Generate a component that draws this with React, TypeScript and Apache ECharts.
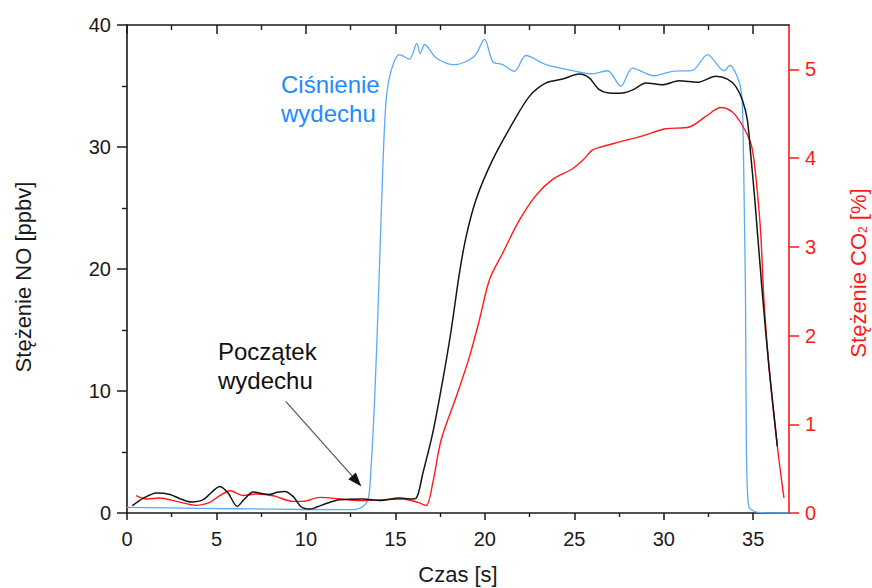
import React, { useEffect, useRef } from 'react';
import * as echarts from 'echarts';

// ---- Data ----
const noTime = [0.3, 0.9, 1.66, 2.4, 3.0, 3.6, 4.26, 4.8, 5.19, 5.65, 6.16, 6.53, 7.05, 7.5, 7.98, 8.4, 8.82, 9.28, 9.75, 10.21, 10.95, 11.89, 13.19, 14.12, 15.23, 15.8, 16.15, 16.54, 17.09, 17.65, 18.12, 18.58, 18.96, 19.51, 20.44, 21.56, 22.49, 23.42, 24.35, 25.28, 25.84, 26.4, 27.14, 27.8, 28.3, 29.0, 29.93, 30.86, 31.88, 32.91, 33.56, 34.02, 34.39, 34.67, 34.86, 35.1, 35.51, 35.88, 36.35];
const noValue = [0.6, 1.2, 1.64, 1.52, 1.15, 0.9, 1.09, 1.8, 2.18, 1.64, 0.54, 1.09, 1.72, 1.6, 1.52, 1.7, 1.77, 1.36, 0.49, 0.33, 0.68, 1.09, 1.15, 1.03, 1.23, 1.15, 1.2, 3.28, 6.56, 10.9, 15.0, 19.67, 22.7, 25.7, 28.96, 31.97, 34.15, 35.25, 35.57, 35.98, 35.66, 34.7, 34.4, 34.45, 34.7, 35.25, 35.1, 35.43, 35.3, 35.79, 35.57, 34.97, 33.88, 32.24, 29.4, 25.5, 18.0, 12.0, 5.46];

const co2Time = [0.5, 1.1, 1.84, 2.77, 3.89, 4.63, 5.19, 5.75, 6.49, 7.24, 8.16, 9.28, 9.84, 10.77, 11.89, 13.0, 14.3, 15.42, 16.26, 16.72, 17.09, 17.56, 18.4, 19.14, 19.7, 20.26, 21.0, 21.93, 22.86, 23.79, 24.9, 25.5, 26.0, 26.4, 27.5, 28.81, 30.1, 31.42, 32.35, 33.19, 33.83, 34.39, 34.86, 35.04, 35.23, 35.42, 35.6, 35.88, 36.35, 36.63, 36.72];
const co2Value = [0.195, 0.158, 0.169, 0.131, 0.086, 0.12, 0.195, 0.25, 0.198, 0.214, 0.195, 0.131, 0.131, 0.176, 0.158, 0.139, 0.15, 0.158, 0.12, 0.085, 0.34, 0.825, 1.31, 1.76, 2.18, 2.63, 2.93, 3.3, 3.58, 3.76, 3.88, 3.98, 4.09, 4.12, 4.18, 4.25, 4.33, 4.35, 4.47, 4.57, 4.52, 4.37, 4.17, 3.98, 3.62, 3.15, 2.4, 1.65, 0.75, 0.3, 0.17];

const pressureTime = [0, 4, 8, 12, 12.7, 13.19, 13.47, 13.6, 13.84, 14.05, 14.3, 14.49, 14.77, 15.23, 15.79, 16.2, 16.39, 16.63, 17.28, 18.3, 19.42, 19.98, 20.44, 21.0, 21.65, 22.3, 23.42, 25.1, 26.0, 26.86, 27.6, 28.25, 29.46, 30.49, 31.6, 32.44, 33.37, 33.7, 34.1, 34.35, 34.43, 34.5, 34.57, 34.62, 34.7, 34.8, 35.3, 37];
const pressureValue = [0.46, 0.38, 0.32, 0.27, 0.28, 0.54, 1.09, 2.73, 9.3, 17.5, 28.4, 33.9, 36.3, 37.57, 37.2, 38.5, 37.65, 38.4, 37.3, 36.75, 37.43, 38.85, 37.0, 36.75, 36.2, 37.5, 36.75, 36.2, 36.0, 36.25, 34.97, 36.47, 35.84, 36.2, 36.28, 37.57, 36.25, 36.7, 35.8, 34.4, 31.4, 25.0, 17.5, 5.0, 1.2, 0.4, 0.05, 0];

const xMajorTicks = [0, 5, 10, 15, 20, 25, 30, 35];
const xMinorTicks = [2.5, 7.5, 12.5, 17.5, 22.5, 27.5, 32.5];
const co2Ticks = [0, 1, 2, 3, 4, 5];

const arrowFrom = [8.87, 9.15];
const arrowTo = [13.1, 2.18];

const FONT = '"Liberation Sans", Arial, Helvetica, sans-serif';
const AXIS_COLOR = '#1a1a1a';
const RED = '#ff1a1a';

const zip = (xs: number[], ys: number[]) => xs.map((x, i) => [x, ys[i]]);

export default function App() {
  const ref = useRef<HTMLDivElement>(null);

  useEffect(() => {
    const chart = echarts.init(ref.current as HTMLDivElement, null, { renderer: 'svg' });
    const xBase = { type: 'value', min: 0, max: 37, splitLine: { show: false }, gridIndex: 0 };
    const option: any = {
      animation: false,
      backgroundColor: '#ffffff',
      grid: { left: 127, right: 83, top: 25, bottom: 75, containLabel: false, outerBoundsMode: 'none' },
      xAxis: [
        {
          ...xBase,
          position: 'bottom',
          axisLine: { show: true, onZero: false, lineStyle: { color: AXIS_COLOR, width: 1.6 } },
          axisTick: { show: true, customValues: xMajorTicks, length: 7, inside: false, lineStyle: { color: AXIS_COLOR, width: 1.5 } },
          axisLabel: { customValues: xMajorTicks, fontSize: 20, color: AXIS_COLOR, fontFamily: FONT, margin: 16 },
          name: 'Czas [s]',
          nameLocation: 'middle',
          nameGap: 50,
          nameTextStyle: { fontSize: 22, color: AXIS_COLOR, fontFamily: FONT },
        },
        {
          ...xBase,
          position: 'bottom',
          axisLine: { show: false, onZero: false },
          axisTick: { show: true, customValues: xMinorTicks, length: 4, inside: false, lineStyle: { color: AXIS_COLOR, width: 1.4 } },
          axisLabel: { show: false },
        },
        {
          ...xBase,
          position: 'top',
          axisLine: { show: true, onZero: false, lineStyle: { color: AXIS_COLOR, width: 1.6 } },
          axisTick: { show: true, customValues: xMajorTicks, length: 9, inside: true, lineStyle: { color: AXIS_COLOR, width: 1.5 } },
          axisLabel: { show: false },
        },
        {
          ...xBase,
          position: 'top',
          axisLine: { show: false, onZero: false },
          axisTick: { show: true, customValues: xMinorTicks, length: 5, inside: true, lineStyle: { color: AXIS_COLOR, width: 1.4 } },
          axisLabel: { show: false },
        },
      ],
      yAxis: [
        {
          type: 'value',
          position: 'left',
          min: 0,
          max: 40,
          interval: 10,
          splitLine: { show: false },
          axisLine: { show: true, onZero: false, lineStyle: { color: AXIS_COLOR, width: 1.6 } },
          axisTick: { show: true, length: 10, inside: false, lineStyle: { color: AXIS_COLOR, width: 1.5 } },
          minorTick: { show: true, splitNumber: 2, length: 5, lineStyle: { color: AXIS_COLOR, width: 1.4 } },
          axisLabel: { fontSize: 20, color: AXIS_COLOR, fontFamily: FONT, margin: 16 },
          name: 'Stężenie NO [ppbv]',
          nameLocation: 'middle',
          nameRotate: 90,
          nameGap: 93,
          nameTextStyle: { fontSize: 22, color: AXIS_COLOR, fontFamily: FONT, padding: [0, 16, 0, 0] },
        },
        {
          type: 'value',
          position: 'right',
          min: 0,
          max: 5.5,
          splitLine: { show: false },
          axisLine: { show: true, onZero: false, lineStyle: { color: RED, width: 1.6 } },
          axisTick: { show: true, customValues: co2Ticks, length: 10, inside: false, lineStyle: { color: RED, width: 1.5 } },
          axisLabel: { customValues: co2Ticks, fontSize: 20, color: RED, fontFamily: FONT, margin: 16 },
          name: '{a|Stężenie CO}{s|2}{a| [%]}',
          nameLocation: 'middle',
          nameRotate: 90,
          nameGap: 58,
          nameTextStyle: {
            fontSize: 22,
            color: RED,
            fontFamily: FONT,
            padding: [0, 8, 0, 0],
            rich: {
              a: { fontSize: 22, color: RED, fontFamily: FONT },
              s: { fontSize: 12, color: RED, fontFamily: FONT, verticalAlign: 'bottom' },
            },
          },
        },
      ],
      series: [
        {
          name: 'Ciśnienie wydechu',
          type: 'line',
          xAxisIndex: 0,
          yAxisIndex: 0,
          data: zip(pressureTime, pressureValue),
          showSymbol: false,
          smooth: 0.3,
          lineStyle: { color: '#5aabf7', width: 1.3 },
          z: 2,
        },
        {
          name: 'CO2',
          type: 'line',
          xAxisIndex: 0,
          yAxisIndex: 1,
          data: zip(co2Time, co2Value),
          showSymbol: false,
          smooth: 0.3,
          lineStyle: { color: RED, width: 1.4 },
          z: 3,
        },
        {
          name: 'NO',
          type: 'line',
          xAxisIndex: 0,
          yAxisIndex: 0,
          data: zip(noTime, noValue),
          showSymbol: false,
          smooth: 0.3,
          lineStyle: { color: '#151515', width: 1.5 },
          z: 4,
        },
      ],
    };
    chart.setOption(option);

    const p1 = chart.convertToPixel({ seriesIndex: 2 }, arrowFrom) as number[];
    const p2 = chart.convertToPixel({ seriesIndex: 2 }, arrowTo) as number[];
    const dx = p2[0] - p1[0];
    const dy = p2[1] - p1[1];
    const len = Math.sqrt(dx * dx + dy * dy);
    const ux = dx / len;
    const uy = dy / len;
    const headLen = 14;
    const headHalf = 5;
    const bx = p2[0] - ux * headLen;
    const by = p2[1] - uy * headLen;

    chart.setOption({
      graphic: [
        {
          type: 'text',
          x: 281,
          y: 70,
          style: {
            text: 'Ciśnienie\nwydechu',
            fill: '#1e8cff',
            fontSize: 24,
            fontFamily: FONT,
            lineHeight: 29,
            textAlign: 'left',
            textVerticalAlign: 'top',
          },
        },
        {
          type: 'text',
          x: 218,
          y: 337,
          style: {
            text: 'Początek\nwydechu',
            fill: '#111111',
            fontSize: 24,
            fontFamily: FONT,
            lineHeight: 29,
            textAlign: 'left',
            textVerticalAlign: 'top',
          },
        },
        {
          type: 'line',
          shape: { x1: p1[0], y1: p1[1], x2: bx, y2: by },
          style: { stroke: '#555555', lineWidth: 1.2 },
        },
        {
          type: 'polygon',
          shape: {
            points: [
              [p2[0], p2[1]],
              [bx - uy * headHalf, by + ux * headHalf],
              [bx + uy * headHalf, by - ux * headHalf],
            ],
          },
          style: { fill: '#111111' },
        },
      ],
    });

    return () => chart.dispose();
  }, []);

  return <div ref={ref} style={{ position: 'absolute', left: 0, top: 0, width: 872, height: 588 }} />;
}
